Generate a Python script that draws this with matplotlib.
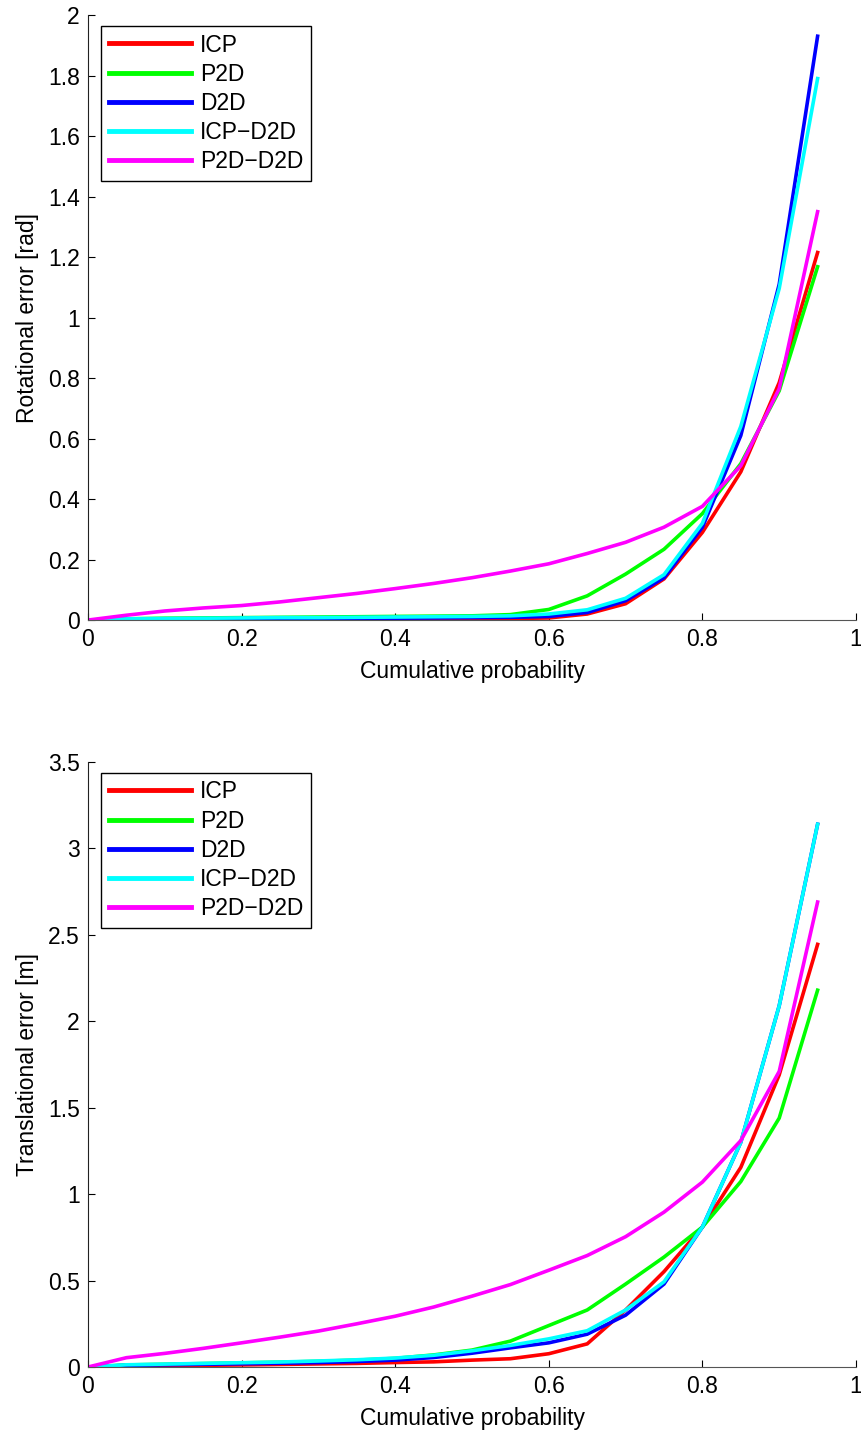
import matplotlib
matplotlib.use("Agg")
import matplotlib.pyplot as plt
from matplotlib.ticker import FuncFormatter

plt.rcParams['font.family'] = ['Liberation Sans', 'DejaVu Sans']

# ---------------- data ----------------
prob = [0.00, 0.05, 0.10, 0.15, 0.20, 0.25, 0.30, 0.35, 0.40, 0.45,
        0.50, 0.55, 0.60, 0.65, 0.70, 0.75, 0.80, 0.85, 0.90, 0.95]

methods = ["ICP", "P2D", "D2D", "ICP\u2212D2D", "P2D\u2212D2D"]
colors = ["#ff0000", "#00ff00", "#0000ff", "#00ffff", "#ff00ff"]

# rotational error [rad]
rot_icp = [0, 0, 0, 0, 0, 0.001, 0.001, 0.002, 0.002, 0.003,
           0.004, 0.005, 0.007, 0.020, 0.054, 0.136, 0.290, 0.490, 0.785, 1.215]
rot_p2d = [0, 0.004, 0.006, 0.007, 0.008, 0.009, 0.010, 0.011, 0.012, 0.013,
           0.014, 0.018, 0.035, 0.080, 0.152, 0.234, 0.352, 0.517, 0.758, 1.168]
rot_d2d = [0, 0.002, 0.003, 0.004, 0.004, 0.005, 0.005, 0.006, 0.006, 0.007,
           0.008, 0.009, 0.012, 0.025, 0.064, 0.140, 0.307, 0.610, 1.110, 1.930]
rot_icp_d2d = [0, 0.004, 0.005, 0.006, 0.007, 0.008, 0.008, 0.009, 0.010, 0.011,
               0.012, 0.014, 0.020, 0.034, 0.072, 0.150, 0.320, 0.640, 1.096, 1.790]
rot_p2d_d2d = [0, 0.016, 0.030, 0.040, 0.048, 0.060, 0.074, 0.088, 0.104, 0.121,
               0.140, 0.162, 0.186, 0.220, 0.257, 0.307, 0.376, 0.510, 0.765, 1.350]

# translational error [m]
tr_icp = [0, 0.005, 0.008, 0.010, 0.012, 0.015, 0.018, 0.021, 0.026, 0.030,
          0.040, 0.048, 0.077, 0.134, 0.330, 0.552, 0.810, 1.155, 1.690, 2.445]
tr_p2d = [0, 0.012, 0.016, 0.020, 0.024, 0.028, 0.033, 0.040, 0.050, 0.070,
          0.098, 0.150, 0.240, 0.330, 0.480, 0.636, 0.810, 1.073, 1.440, 2.180]
tr_d2d = [0, 0.010, 0.013, 0.016, 0.019, 0.022, 0.026, 0.032, 0.040, 0.055,
          0.080, 0.111, 0.140, 0.190, 0.300, 0.480, 0.810, 1.300, 2.090, 3.140]
tr_icp_d2d = [0, 0.013, 0.017, 0.021, 0.025, 0.029, 0.035, 0.042, 0.052, 0.068,
              0.094, 0.125, 0.163, 0.210, 0.330, 0.493, 0.810, 1.300, 2.090, 3.140]
tr_p2d_d2d = [0, 0.054, 0.079, 0.108, 0.140, 0.173, 0.208, 0.250, 0.294, 0.347,
              0.410, 0.477, 0.560, 0.645, 0.754, 0.896, 1.070, 1.310, 1.710, 2.690]

rot_series = [rot_icp, rot_p2d, rot_d2d, rot_icp_d2d, rot_p2d_d2d]
tr_series = [tr_icp, tr_p2d, tr_d2d, tr_icp_d2d, tr_p2d_d2d]

x_ticks = [0, 0.2, 0.4, 0.6, 0.8, 1.0]
rot_ticks = [0, 0.2, 0.4, 0.6, 0.8, 1.0, 1.2, 1.4, 1.6, 1.8, 2.0]
tr_ticks = [0, 0.5, 1.0, 1.5, 2.0, 2.5, 3.0, 3.5]

FS = 16.5
fmt = FuncFormatter(lambda v, p: "%g" % round(v, 4))

fig = plt.figure(figsize=(8.61, 14.34), dpi=100)
ax1 = fig.add_axes([0.1022, 0.5676, 0.892, 0.4219])
ax2 = fig.add_axes([0.1022, 0.0467, 0.892, 0.4219])


def style_axis(ax, series, yticks, ylabel):
    for vals, c, name in zip(series, colors, methods):
        ax.plot(prob, vals, color=c, lw=2.6, label=name, solid_joinstyle="miter")
    ax.set_xlim(0, 1)
    ax.set_ylim(yticks[0], yticks[-1])
    ax.set_xticks(x_ticks)
    ax.set_yticks(yticks)
    ax.xaxis.set_major_formatter(fmt)
    ax.yaxis.set_major_formatter(fmt)
    ax.tick_params(direction="in", length=5, width=0.8, labelsize=FS, pad=6)
    for s in ["top", "right"]:
        ax.spines[s].set_visible(False)
    ax.spines["left"].set_color("#222222")
    ax.spines["bottom"].set_color("#555555")
    ax.set_xlabel("Cumulative probability", fontsize=FS, labelpad=6)
    ax.set_ylabel(ylabel, fontsize=FS, labelpad=6)
    leg = ax.legend(loc="upper left", bbox_to_anchor=(0.017, 0.982),
                    borderaxespad=0, fontsize=FS, fancybox=False,
                    framealpha=1, edgecolor="black", handlelength=3.6,
                    handletextpad=0.4, labelspacing=0.27, borderpad=0.33)
    leg.get_frame().set_linewidth(1.0)
    for line in leg.get_lines():
        line.set_linewidth(3.5)


style_axis(ax1, rot_series, rot_ticks, "Rotational error [rad]")
style_axis(ax2, tr_series, tr_ticks, "Translational error [m]")

fig.savefig("out.png", dpi=100)
